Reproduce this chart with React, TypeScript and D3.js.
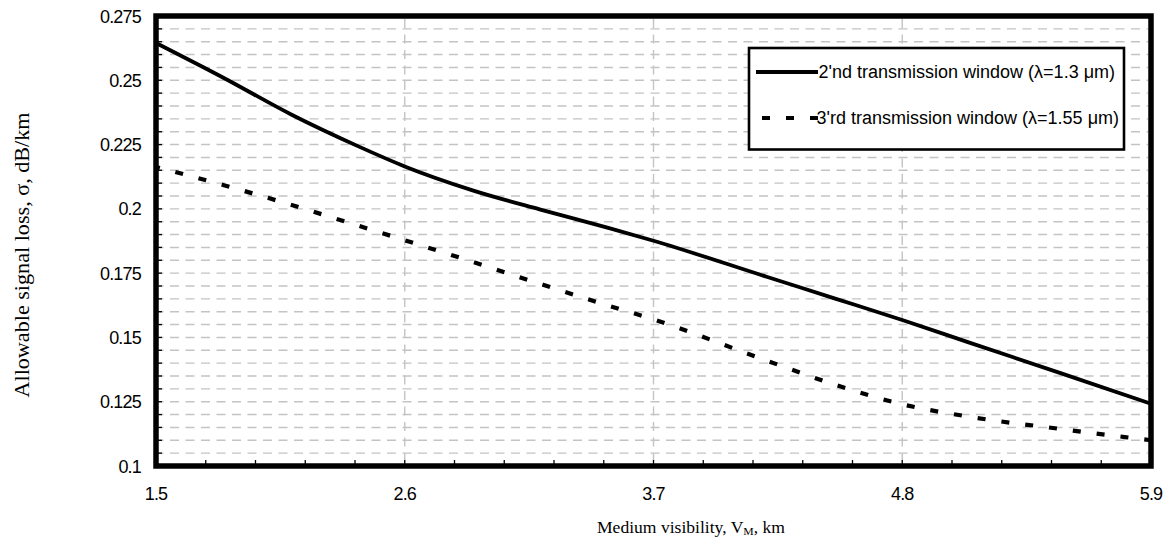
import React from 'react';
import * as d3 from 'd3';

// medium visibility, km
const visibility = [1.5, 1.8, 2.1, 2.4, 2.6, 2.9, 3.2, 3.5, 3.7, 4.2, 4.5, 4.8, 5.1, 5.5, 5.9];
// allowable loss, dB/km
const lossWindow2 = [0.2645, 0.2509, 0.2366, 0.2241, 0.2165, 0.2072, 0.1997, 0.1926, 0.1876, 0.1736, 0.1652, 0.1568, 0.1479, 0.1361, 0.1242];
const lossWindow3 = [0.2163, 0.2092, 0.2015, 0.1933, 0.1878, 0.1794, 0.1708, 0.1624, 0.157, 0.141, 0.1317, 0.124, 0.1191, 0.1144, 0.11];

const xTicks = [1.5, 2.6, 3.7, 4.8, 5.9];
const yTicks = [0.1, 0.125, 0.15, 0.175, 0.2, 0.225, 0.25, 0.275];
const yTickLabels = ['0.1', '0.125', '0.15', '0.175', '0.2', '0.225', '0.25', '0.275'];
const seriesNames = ["2'nd transmission window (λ=1.3 μm)", "3'rd transmission window (λ=1.55 μm)"];

const W = 1170;
const H = 546;
const left = 156, right = 1151, top = 16, bottom = 466;

const App = () => {
  const x = d3.scaleLinear().domain([1.5, 5.9]).range([left, right]);
  const y = d3.scaleLinear().domain([0.1, 0.275]).range([bottom, top]);

  const line = d3
    .line<number>()
    .x((d, i) => x(visibility[i]))
    .y((d) => y(d))
    .curve(d3.curveMonotoneX);

  // minor grid every 0.005, minor x ticks every 0.22
  const yMinor = d3.range(1, 35).map((i) => 0.1 + i * 0.005);
  const xMinor = d3.range(1, 20).map((i) => 1.5 + i * 0.22);

  const sans = 'Liberation Sans, Arial, sans-serif';
  const serif = 'Liberation Serif, Times New Roman, serif';

  // legend geometry
  const lgLeft = 749, lgRight = 1124, lgTop = 48, lgBottom = 149.5;
  const sampleX1 = 756, sampleX2 = 818;

  return (
    <svg
      width={W}
      height={H}
      style={{ position: 'absolute', left: 0, top: 0, background: '#fff' }}
    >
      <rect width={W} height={H} fill="#fff" />

      {/* horizontal dashed grid */}
      {yMinor.map((v, i) => (
        <line
          key={'hg' + i}
          x1={left + 3}
          x2={right - 3}
          y1={y(v)}
          y2={y(v)}
          stroke="#c4c4c4"
          strokeWidth={1.4}
          strokeDasharray="9,6.5"
          strokeDashoffset={-11}
        />
      ))}
      {/* vertical dashed grid at major x */}
      {xTicks.slice(1, -1).map((v, i) => (
        <line
          key={'vg' + i}
          x1={x(v)}
          x2={x(v)}
          y1={top + 3}
          y2={bottom - 3}
          stroke="#c4c4c4"
          strokeWidth={1.4}
          strokeDasharray="9,6.5"
        />
      ))}

      {/* inner ticks */}
      {yMinor.map((v, i) => (
        <line key={'yt' + i} x1={left} x2={left + 6} y1={y(v)} y2={y(v)} stroke="#000" strokeWidth={1.3} />
      ))}
      {xMinor.map((v, i) => (
        <line key={'xt' + i} x1={x(v)} x2={x(v)} y1={bottom} y2={bottom - 6} stroke="#000" strokeWidth={1.3} />
      ))}

      {/* series */}
      <path d={line(lossWindow2) || ''} fill="none" stroke="#000" strokeWidth={3.8} />
      <path
        d={line(lossWindow3) || ''}
        fill="none"
        stroke="#000"
        strokeWidth={4.2}
        strokeDasharray="8,16"
        strokeDashoffset={4}
      />

      {/* frame */}
      <rect
        x={left}
        y={top}
        width={right - left}
        height={bottom - top}
        fill="none"
        stroke="#000"
        strokeWidth={5.5}
      />

      {/* y tick labels */}
      {yTicks.map((v, i) => (
        <text
          key={'yl' + i}
          x={141}
          y={y(v) + 6.5}
          textAnchor="end"
          fontFamily={sans}
          fontSize={18}
          letterSpacing={-0.8}
        >
          {yTickLabels[i]}
        </text>
      ))}
      {/* x tick labels */}
      {xTicks.map((v, i) => (
        <text
          key={'xl' + i}
          x={x(v)}
          y={500}
          textAnchor="middle"
          fontFamily={sans}
          fontSize={18}
          letterSpacing={-0.8}
        >
          {String(v)}
        </text>
      ))}

      {/* axis titles */}
      <text x={597} y={533} fontFamily={serif} fontSize={16.5} textLength={188} lengthAdjust="spacingAndGlyphs">
        Medium visibility, V
        <tspan fontSize={11} dy={2}>M</tspan>
        <tspan dy={-2}>, km</tspan>
      </text>
      <text
        transform={`translate(29, 255) rotate(-90)`}
        textAnchor="middle"
        fontFamily={serif}
        fontSize={21}
        textLength={285}
        lengthAdjust="spacingAndGlyphs"
      >
        Allowable signal loss, σ, dB/km
      </text>

      {/* legend */}
      <rect
        x={lgLeft}
        y={lgTop}
        width={lgRight - lgLeft}
        height={lgBottom - lgTop}
        fill="#fff"
        stroke="#000"
        strokeWidth={2.6}
      />
      <line x1={sampleX1} x2={sampleX2} y1={72} y2={72} stroke="#000" strokeWidth={3.8} />
      <line
        x1={sampleX1}
        x2={sampleX2}
        y1={118}
        y2={118}
        stroke="#000"
        strokeWidth={4.2}
        strokeDasharray="8,16"
        strokeDashoffset={-6}
      />
      <text x={1115} y={78} textAnchor="end" fontFamily={sans} fontSize={18}>
        {seriesNames[0]}
      </text>
      <text x={1119} y={124} textAnchor="end" fontFamily={sans} fontSize={18}>
        {seriesNames[1]}
      </text>
    </svg>
  );
};

export default App;
